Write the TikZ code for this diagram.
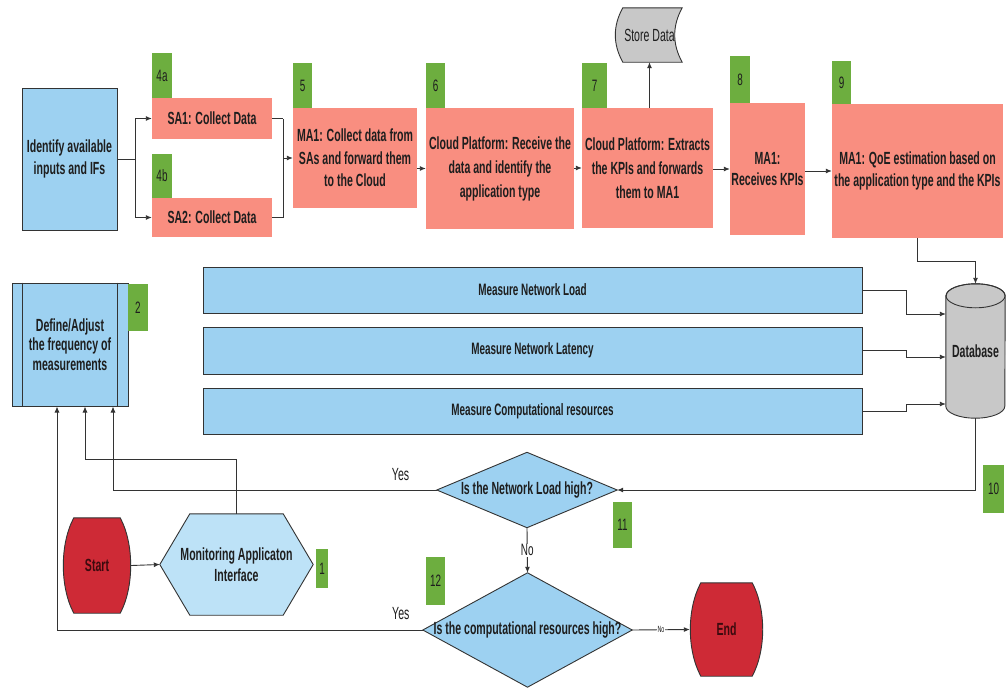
\documentclass[tikz,border=0pt]{standalone}
\usepackage{fontspec}
\setmainfont{Liberation Sans}[FakeStretch=0.6]
\usetikzlibrary{arrows.meta,backgrounds}

\definecolor{procblue}{HTML}{9DD1F1}
\definecolor{hexblue}{HTML}{BDE2F7}
\definecolor{salmon}{HTML}{F98E80}
\definecolor{tag}{HTML}{6DAE3F}
\definecolor{termred}{HTML}{CE2A36}
\definecolor{termtext}{HTML}{3B0A0E}
\definecolor{store}{HTML}{C8C8C8}
\definecolor{ink}{HTML}{1E1E1E}
\definecolor{edge}{HTML}{333333}

% terminator outline: flat top and bottom, bulging sides
\newcommand\termshape[1]{%
  \filldraw[fill=termred, draw=edge, line width=0.9pt]
    ([xshift=11]#1.north west) -- ([xshift=-11]#1.north east)
    .. controls ([xshift=3,yshift=-26]#1.north east) and ([xshift=3,yshift=26]#1.south east) ..
    ([xshift=-11]#1.south east) -- ([xshift=11]#1.south west)
    .. controls ([xshift=-3,yshift=26]#1.south west) and ([xshift=-3,yshift=-26]#1.north west) ..
    cycle;}

\begin{document}
\begin{tikzpicture}[x=1pt,y=-1pt,
  txt/.style={font=\fontsize{17.6}{21.5}\selectfont\bfseries, align=center, text=ink, inner sep=0pt},
  bluebox/.style={txt, fill=procblue, draw=edge, line width=1pt},
  salbox/.style={txt, fill=salmon},
  tagbox/.style={fill=tag, text=ink, inner sep=0pt, font=\fontsize{16.5}{19}\selectfont},
  plain/.style={font=\fontsize{17.6}{20}\selectfont, text=ink, inner sep=0pt},
  termtxt/.style={txt, text=termtext},
  meas/.style={bluebox, font=\fontsize{16.5}{19}\selectfont\bfseries},
  sz/.style 2 args={minimum width=#1pt, minimum height=#2pt},
  conn/.style={draw=edge, line width=0.9pt},
  arr/.style={conn, -{Latex[length=6pt,width=5pt]}},
]
\useasboundingbox (0,0) rectangle (1006,688);

% ---------- upper process chain ----------
\node[bluebox, sz={95}{142}] (ident) at (69.5,159) {Identify available\\inputs and IFs};
\node[salbox, sz={120}{41}] (sa1) at (212,118.5) {SA1: Collect Data};
\node[salbox, sz={120}{39}] (sa2) at (212,217.5) {SA2: Collect Data};
\node[tagbox, sz={20}{45}] (t4a) at (162,75.5) {4a};
\node[tagbox, sz={20}{44}] (t4b) at (162,176) {4b};
\node[salbox, sz={124}{100}, font=\fontsize{17.6}{22.5}\selectfont\bfseries] (ma1) at (355,158)
  {MA1: Collect data from\\SAs and forward them\\to the Cloud};
\node[tagbox, sz={19}{45}] (t5) at (302.5,85.5) {5};
\node[salbox, sz={148}{121}, font=\fontsize{17.6}{24}\selectfont\bfseries] (cp1) at (500,168.5)
  {Cloud Platform: Receive the\\data and identify the\\application type};
\node[tagbox, sz={19}{45}] (t6) at (435.5,85.5) {6};
\node[salbox, sz={131}{120}, font=\fontsize{17.6}{24}\selectfont\bfseries] (cp2) at (647.5,168)
  {Cloud Platform: Extracts\\the KPIs and forwards\\them to MA1};
\node[tagbox, sz={25}{45}] (t7) at (594.5,85.5) {7};
\node[plain, sz={65}{54}] (sd) at (649.5,35) {Store Data};
\node[salbox, sz={75}{132}] (rk) at (767.5,169) {MA1:\\Receives KPIs};
\node[tagbox, sz={20}{47}] (t8) at (740,79.5) {8};
\node[salbox, sz={171}{134}] (qoe) at (917.5,171)
  {MA1: QoE estimation based on\\the application type and the KPIs};
\node[tagbox, sz={19}{43}] (t9) at (841.5,82.5) {9};

% ---------- measurement rows and store ----------
\node[bluebox, sz={116}{123}, font=\fontsize{17.6}{19.5}\selectfont\bfseries] (def) at (70,344.5)
  {Define/Adjust\\the frequency of\\measurements};
\draw[conn, line width=1pt] ([xshift=11]def.north west) -- ([xshift=11]def.south west);
\draw[conn, line width=1pt] ([xshift=-11]def.north east) -- ([xshift=-11]def.south east);
\node[tagbox, sz={20}{47}] (t2) at (138,307.5) {2};
\node[meas, sz={659}{46}] (m1) at (532.5,290) {Measure Network Load};
\node[meas, sz={659}{47}] (m2) at (532.5,350.5) {Measure Network Latency};
\node[meas, sz={659}{46}] (m3) at (532.5,411) {Measure Computational resources};
\node[txt, sz={59}{134}] (db) at (975.5,351) {Database};
\node[tagbox, sz={21}{48}] (t10) at (993.5,489) {10};

% ---------- decisions and terminals ----------
\node[txt, sz={180}{75}] (d1) at (527,490) {Is the Network Load high?};
\node[tagbox, sz={19}{46}] (t11) at (622.5,525) {11};
\node[txt, sz={209}{114}] (d2) at (527.5,630) {Is the computational resources high?};
\node[tagbox, sz={19}{48}] (t12) at (435.5,581) {12};
\node[termtxt, sz={68}{95}] (start) at (97,565.5) {Start};
\node[txt, sz={153}{101}] (mai) at (236.5,564.5) {Monitoring Applicaton\\Interface};
\node[tagbox, sz={12}{39}] (t1) at (322,568.5) {1};
\node[termtxt, sz={73}{93}] (stop) at (726.5,629.5) {End};

% ---------- connectors ----------
\draw[conn] (ident.east) -- ++(18,0) coordinate (fork);
\draw[arr] (fork) |- (sa1.west);
\draw[arr] (fork) |- (sa2.west);
\draw[conn] (sa1.east) -- ++(11,0) coordinate (join);
\draw[conn] (sa2.east) -| (join);
\draw[arr] (join |- ma1.west) -- (ma1.west);
\draw[arr] (ma1.east |- cp1.west) -- (cp1.west);
\draw[arr] (cp1.east |- cp2.west) -- (cp2.west);
\draw[arr] (cp2.north -| sd.south) -- (sd.south);
\draw[arr] (cp2.east |- rk.west) -- (rk.west);
\draw[arr] (rk.east |- qoe.west) -- (qoe.west);
\draw[arr] (qoe.south) -- ++(0,23) -| (db.north);

\draw[arr] (m1.east) -- ++(44,0) |- ([yshift=37]db.west);
\draw[arr] (m2.east) -- ++(44,0) |- ([yshift=-6]db.west);
\draw[arr] (m3.east) -- ++(44,0) |- ([yshift=-53]db.west);
\draw[arr] (db.south) |- (d1.east);

\draw[arr] (d1.south) -- node[fill=white, inner sep=1pt, font=\fontsize{16.5}{19}\selectfont, text=ink] {No} (d2.north);
\draw[arr] (d1.west) -| node[pos=0.056, above=9pt, plain] {Yes} ([xshift=43]def.south);
\draw[arr] (d2.west) -| node[pos=0.03, above=10pt, plain] {Yes} ([xshift=-13]def.south);
\draw[arr] (mai.north) -- ++(0,-54) -| ([xshift=15]def.south);
\draw[arr] (start.east) -- (mai.west);
\draw[arr] (d2.east) -- node[fill=white, inner sep=1pt, font=\fontsize{9}{10}\selectfont, text=ink] {No} (stop.west);

% ---------- outlined shapes behind the labels ----------
\begin{scope}[on background layer]
  \fill[white] (0,0) rectangle (1006,688);
  % stored-data symbol
  \filldraw[fill=store, draw=edge, line width=0.9pt]
    ([xshift=6]sd.north west) -- (sd.north east)
    .. controls ([xshift=-10,yshift=-18]sd.north east) and ([xshift=-10,yshift=18]sd.south east) ..
    (sd.south east) -- ([xshift=6]sd.south west)
    .. controls ([xshift=-4,yshift=18]sd.south west) and ([xshift=-4,yshift=-18]sd.north west) ..
    cycle;
  % hexagon
  \filldraw[fill=hexblue, draw=edge, line width=0.9pt]
    (mai.west) -- ([xshift=30]mai.north west) -- ([xshift=-30]mai.north east) -- (mai.east)
    -- ([xshift=-30]mai.south east) -- ([xshift=30]mai.south west) -- cycle;
  % decisions
  \filldraw[fill=procblue, draw=edge, line width=0.9pt] (d1.west) -- (d1.north) -- (d1.east) -- (d1.south) -- cycle;
  \filldraw[fill=procblue, draw=edge, line width=0.9pt] (d2.west) -- (d2.north) -- (d2.east) -- (d2.south) -- cycle;
  % terminals
  \termshape{start}
  \termshape{stop}
  % database cylinder
  \filldraw[fill=store, draw=edge, line width=0.9pt]
    ([yshift=-12]db.north west) -- ([yshift=12]db.south west)
    arc[start angle=180, end angle=360, x radius=29.5pt, y radius=12pt]
    -- ([yshift=-12]db.north east)
    arc[start angle=0, end angle=180, x radius=29.5pt, y radius=12pt] -- cycle;
  \draw[edge, line width=0.9pt] ([yshift=-12]db.north) ellipse [x radius=29.5pt, y radius=12pt];
\end{scope}
\end{tikzpicture}
\end{document}
